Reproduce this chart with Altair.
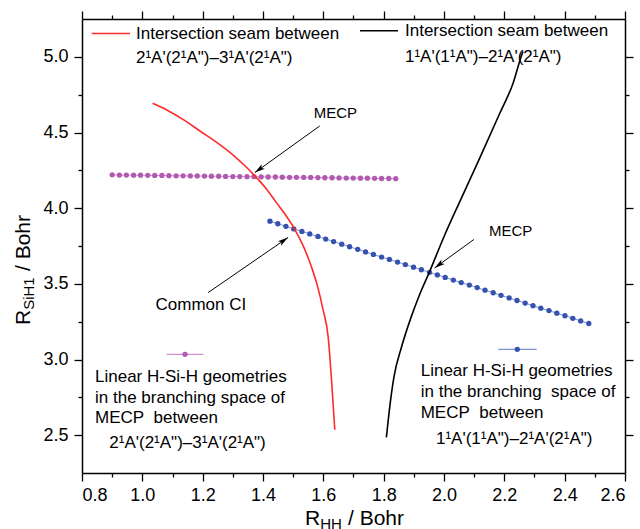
import math
import altair as alt
import pandas as pd

# ---------------- data ----------------
red_x = [1.034, 1.081, 1.136, 1.191, 1.250, 1.301, 1.340, 1.372, 1.410, 1.445, 1.475, 1.500, 1.533, 1.561, 1.580, 1.599, 1.616, 1.627, 1.638]
red_y = [4.693, 4.649, 4.585, 4.510, 4.430, 4.351, 4.280, 4.215, 4.130, 4.035, 3.955, 3.878, 3.752, 3.610, 3.490, 3.330, 3.150, 2.870, 2.536]

black_x = [1.809, 1.820, 1.834, 1.859, 1.891, 1.916, 1.954, 2.002, 2.052, 2.118, 2.185, 2.229, 2.256, 2.262]
black_y = [2.485, 2.684, 2.883, 3.081, 3.280, 3.413, 3.589, 3.821, 4.042, 4.329, 4.627, 4.826, 5.002, 5.035]

mag_x = [0.900, 0.924, 0.947, 0.971, 0.994, 1.018, 1.041, 1.065, 1.088, 1.112,
         1.135, 1.159, 1.182, 1.206, 1.229, 1.253, 1.276, 1.300, 1.323, 1.347,
         1.370, 1.394, 1.417, 1.441, 1.464, 1.488, 1.511, 1.535, 1.558, 1.582,
         1.605, 1.629, 1.652, 1.676, 1.699, 1.723, 1.746, 1.770, 1.793, 1.817, 1.840]
mag_y = [4.220, 4.219, 4.219, 4.218, 4.218, 4.217, 4.216, 4.216, 4.215, 4.214,
         4.214, 4.213, 4.213, 4.212, 4.211, 4.211, 4.210, 4.209, 4.209, 4.208,
         4.208, 4.207, 4.206, 4.206, 4.205, 4.204, 4.204, 4.203, 4.203, 4.202,
         4.201, 4.201, 4.200, 4.199, 4.199, 4.198, 4.198, 4.197, 4.196, 4.196, 4.195]

blue_x = [1.423, 1.449, 1.476, 1.502, 1.529, 1.555, 1.582, 1.608, 1.634, 1.661,
          1.687, 1.714, 1.740, 1.766, 1.793, 1.819, 1.846, 1.872, 1.899, 1.925,
          1.952, 1.978, 2.004, 2.031, 2.057, 2.084, 2.110, 2.136, 2.163, 2.189,
          2.216, 2.242, 2.269, 2.295, 2.321, 2.348, 2.374, 2.401, 2.427, 2.453, 2.480]
blue_y = [3.914, 3.897, 3.880, 3.863, 3.846, 3.830, 3.813, 3.796, 3.779, 3.762,
          3.745, 3.728, 3.711, 3.694, 3.677, 3.661, 3.644, 3.627, 3.610, 3.593,
          3.576, 3.559, 3.542, 3.525, 3.508, 3.492, 3.475, 3.458, 3.441, 3.424,
          3.407, 3.390, 3.373, 3.356, 3.339, 3.323, 3.306, 3.289, 3.272, 3.255, 3.238]

x_major = [0.8, 1.0, 1.2, 1.4, 1.6, 1.8, 2.0, 2.2, 2.4, 2.6]
x_minor = [0.9, 1.1, 1.3, 1.5, 1.7, 1.9, 2.1, 2.3, 2.5]
y_major = [2.5, 3.0, 3.5, 4.0, 4.5, 5.0]
y_minor = [2.75, 3.25, 3.75, 4.25, 4.75]

seam_a = "2\u00b9A'(2\u00b9A\")\u20133\u00b9A'(2\u00b9A\")"
seam_b = "1\u00b9A'(1\u00b9A\")\u20132\u00b9A'(2\u00b9A\")"

# annotations: label, text pos, arrow tail, arrow tip (data units)
ann_labels = ["MECP", "MECP", "Common CI"]
ann_text_x = [1.640, 2.221, 1.194]
ann_text_y = [4.630, 3.848, 3.358]
ann_tail_x = [1.588, 2.099, 1.218]
ann_tail_y = [4.543, 3.793, 3.442]
ann_tip_x = [1.373, 1.969, 1.483]
ann_tip_y = [4.235, 3.605, 3.806]
ann_size = [15, 15, 17]

# ---------------- layout ----------------
W, H = 543, 454
XD = [0.8, 2.6]
YD = [2.25, 5.25]
FONT = "Liberation Sans"

RED = "#ff2a2a"
MAG = "#b25ab2"
MAG_L = "#cf8fcf"
BLUE = "#3452ae"
BLUE_L = "#7d90d6"

xs = alt.Scale(domain=XD, nice=False, zero=False)
ys = alt.Scale(domain=YD, nice=False, zero=False)

red_df = pd.DataFrame({"x": red_x, "y": red_y, "i": range(len(red_x))})
black_df = pd.DataFrame({"x": black_x, "y": black_y, "i": range(len(black_x))})
mag_df = pd.DataFrame({"x": mag_x, "y": mag_y, "i": range(len(mag_x))})
blue_df = pd.DataFrame({"x": blue_x, "y": blue_y, "i": range(len(blue_x))})


def px(x):
    return (x - XD[0]) / (XD[1] - XD[0]) * W


def py(y):
    return (YD[1] - y) / (YD[1] - YD[0]) * H


ann_df = pd.DataFrame({
    "t": ann_labels, "tx": ann_text_x, "ty": ann_text_y,
    "x1": ann_tail_x, "y1": ann_tail_y, "x2": ann_tip_x, "y2": ann_tip_y,
    "fs": ann_size,
})
ann_df["ang"] = [
    (math.degrees(math.atan2(px(b) - px(a), -(py(d) - py(c)))) + 360) % 360
    for a, b, c, d in zip(ann_tail_x, ann_tip_x, ann_tail_y, ann_tip_y)
]


def X(field="x", axis=None):
    return alt.X(f"{field}:Q", scale=xs, axis=axis)


def Y(field="y", axis=None):
    return alt.Y(f"{field}:Q", scale=ys, axis=axis)


# axis carrier layers
def axis_layer(xaxis, yaxis):
    return alt.Chart(red_df).mark_point(opacity=0).encode(x=X(axis=xaxis), y=Y(axis=yaxis))


common = dict(title=None, grid=False)
ax_b = alt.Axis(orient="bottom", values=x_major, format=".1f", tickSize=8, labelPadding=5, domain=True, **common)
ax_bm = alt.Axis(orient="bottom", values=x_minor, tickSize=4, labels=False, domain=False, **common)
ax_t = alt.Axis(orient="top", values=x_major, tickSize=8, labels=False, domain=True, **common)
ax_tm = alt.Axis(orient="top", values=x_minor, tickSize=4, labels=False, domain=False, **common)
ay_l = alt.Axis(orient="left", values=y_major, format=".1f", tickSize=8, labelPadding=6, domain=True, **common)
ay_lm = alt.Axis(orient="left", values=y_minor, tickSize=4, labels=False, domain=False, **common)
ay_r = alt.Axis(orient="right", values=y_major, tickSize=8, labels=False, domain=True, **common)
ay_rm = alt.Axis(orient="right", values=y_minor, tickSize=4, labels=False, domain=False, **common)

axes = [axis_layer(ax_b, ay_l), axis_layer(ax_bm, ay_lm), axis_layer(ax_t, ay_r), axis_layer(ax_tm, ay_rm)]

red_line = alt.Chart(red_df).mark_line(color=RED, strokeWidth=1.6, interpolate="monotone").encode(
    x=X(), y=Y(), order="i:Q")
black_line = alt.Chart(black_df).mark_line(color="black", strokeWidth=1.6, interpolate="monotone").encode(
    x=X(), y=Y(), order="i:Q")
mag_line = alt.Chart(mag_df).mark_line(color=MAG_L, strokeWidth=1).encode(x=X(), y=Y(), order="i:Q")
mag_pts = alt.Chart(mag_df).mark_circle(color=MAG, size=28, opacity=1).encode(x=X(), y=Y())
blue_line = alt.Chart(blue_df).mark_line(color=BLUE_L, strokeWidth=1).encode(x=X(), y=Y(), order="i:Q")
blue_pts = alt.Chart(blue_df).mark_circle(color=BLUE, size=28, opacity=1).encode(x=X(), y=Y())

arrow_rules = alt.Chart(ann_df).mark_rule(color="black", strokeWidth=1).encode(
    x=X("x1"), y=Y("y1"), x2="x2:Q", y2="y2:Q")
arrow_heads = alt.Chart(ann_df).mark_point(
    shape="M0,0L0.45,1.7L0,1.3L-0.45,1.7Z", filled=True, color="black", size=150, opacity=1
).encode(x=X("x2"), y=Y("y2"), angle=alt.Angle("ang:Q", scale=None))
ann_text = alt.Chart(ann_df).mark_text(font=FONT, color="black", align="center", baseline="middle").encode(
    x=X("tx"), y=Y("ty"), text="t:N", size=alt.Size("fs:Q", scale=None))

# ---------------- legend items (pixel positions inside the plot) ----------------
leg_text = [
    ("Intersection seam between", 54, 14.5),
    (seam_a, 54, 38.5),
    ("Intersection seam between", 323, 11.7),
    (seam_b, 323, 37.5),
    ("Linear H-Si-H geometries", 13, 357.7),
    ("in the branching space of", 13, 378.5),
    ("MECP\u00a0 between", 13, 399.3),
    (seam_a, 27.3, 423.5),
    ("Linear H-Si-H geometries", 338.7, 352.3),
    ("in the branching\u00a0 space of", 338.7, 373.3),
    ("MECP\u00a0 between", 338.7, 394.3),
    (seam_b, 354, 419.5),
]
leg_df = pd.DataFrame({"t": [a for a, _, _ in leg_text], "px": [b for _, b, _ in leg_text],
                       "py": [c for _, _, c in leg_text]})
leg_texts = alt.Chart(leg_df).mark_text(font=FONT, fontSize=17, color="black", align="left", baseline="middle").encode(
    x=alt.X("px:Q", scale=None, axis=None), y=alt.Y("py:Q", scale=None, axis=None), text="t:N")

leg_lines_df = pd.DataFrame({
    "x1": [9.7, 278, 84.7, 416.3], "x2": [48, 316, 121.3, 454.7],
    "y": [14.5, 11.7, 335.3, 330.3], "c": [RED, "black", MAG_L, BLUE_L], "w": [1.6, 1.6, 1.2, 1.2],
})
leg_lines = alt.Chart(leg_lines_df).mark_rule().encode(
    x=alt.X("x1:Q", scale=None, axis=None), x2="x2:Q", y=alt.Y("y:Q", scale=None, axis=None),
    color=alt.Color("c:N", scale=None), strokeWidth=alt.StrokeWidth("w:Q", scale=None))
leg_dots_df = pd.DataFrame({"x": [103, 435.3], "y": [335.3, 330.3], "c": [MAG, BLUE]})
leg_dots = alt.Chart(leg_dots_df).mark_circle(size=28, opacity=1).encode(
    x=alt.X("x:Q", scale=None, axis=None), y=alt.Y("y:Q", scale=None, axis=None),
    color=alt.Color("c:N", scale=None))

# ---------------- axis titles with subscripts ----------------
xt_df = pd.DataFrame({
    "t": ["R", "HH", "/ Bohr"],
    "px": [223, 238.2, 266],
    "py": [506, 510, 506],
    "fs": [21, 15, 21],
})
x_title = alt.Chart(xt_df).mark_text(font=FONT, color="black", align="left", baseline="alphabetic").encode(
    x=alt.X("px:Q", scale=None, axis=None), y=alt.Y("py:Q", scale=None, axis=None), text="t:N",
    size=alt.Size("fs:Q", scale=None))
yt_df = pd.DataFrame({
    "t": ["R", "SiH1", "/ Bohr"],
    "px": [-52.5, -48.5, -52.5],
    "py": [306, 290.8, 252],
    "fs": [21, 15, 21],
})
y_title = alt.Chart(yt_df).mark_text(font=FONT, color="black", align="left", baseline="alphabetic", angle=270).encode(
    x=alt.X("px:Q", scale=None, axis=None), y=alt.Y("py:Q", scale=None, axis=None), text="t:N",
    size=alt.Size("fs:Q", scale=None))

chart = alt.layer(
    *axes, mag_line, mag_pts, blue_line, blue_pts, red_line, black_line,
    arrow_rules, arrow_heads, ann_text, leg_lines, leg_dots, leg_texts, x_title, y_title,
).resolve_axis(x="independent", y="independent").properties(
    width=W, height=H,
    padding={"left": 82, "top": 19, "right": 15, "bottom": 56},
    autosize=alt.AutoSizeParams(type="none"),
).configure_view(stroke=None).configure_axis(
    labelFont=FONT, labelFontSize=18, labelColor="black", tickColor="black", domainColor="black",
    tickWidth=1.3, domainWidth=1.5,
)

chart.save("out.html", embed_options={"renderer": "svg", "actions": False})
